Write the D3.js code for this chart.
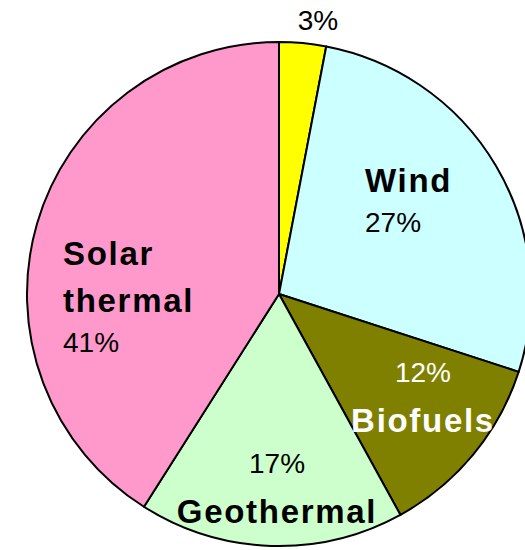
<!DOCTYPE html>
<html>
<head>
<meta charset="utf-8">
<script src="https://cdn.jsdelivr.net/npm/d3@7"></script>
<style>
  body { margin: 0; background: #fff; }
  svg { display: block; font-family: "Liberation Sans", Arial, sans-serif; }
</style>
</head>
<body>
<div id="chart"></div>
<script>
// data
var sources = ["Other", "Wind", "Biofuels", "Geothermal", "Solar thermal"];
var shares = [3, 27, 12, 17, 41];
var colours = ["#FFFF00", "#CCFFFF", "#808000", "#CCFFCC", "#FF99CC"];

var width = 525, height = 550,
    cx = 279, cy = 294, radius = 252;

var svg = d3.select("#chart").append("svg")
    .attr("width", width)
    .attr("height", height);

var g = svg.append("g")
    .attr("transform", "translate(" + cx + "," + cy + ")");

var pie = d3.pie().sort(null).value(function(d) { return d; });
var arc = d3.arc().innerRadius(0).outerRadius(radius);

var arcs = pie(shares);

g.selectAll("path.slice")
    .data(arcs)
  .enter().append("path")
    .attr("class", "slice")
    .attr("d", arc)
    .attr("fill", function(d, i) { return colours[i]; })
    .attr("stroke", "#000")
    .attr("stroke-width", 2)
    .attr("stroke-linejoin", "round");

// label layout, offsets from pie centre (name lines, then percent)
var layout = [
  {anchor: "middle", x: 39, pct: -264, name: null, white: false},
  {anchor: "start", x: 86, name: [-102], pct: -62, white: false},
  {anchor: "middle", x: 144, pct: 88, name: [138], white: true, pctFirst: true},
  {anchor: "middle", x: -2, pct: 179, name: [229], white: false, pctFirst: true},
  {anchor: "start", x: -216, name: [-29, 18], pct: 58, white: false}
];
var nameLines = [null, ["Wind"], ["Biofuels"], ["Geothermal"], ["Solar", "thermal"]];

layout.forEach(function(l, i) {
  var fill = l.white ? "#fff" : "#000";
  if (l.name) {
    l.name.forEach(function(y, k) {
      g.append("text")
        .attr("x", l.x)
        .attr("y", y)
        .attr("text-anchor", l.anchor)
        .attr("fill", fill)
        .style("font-size", "33px")
        .style("font-weight", "bold")
        .style("letter-spacing", "1.7px")
        .text(nameLines[i][k]);
    });
  }
  g.append("text")
    .attr("x", l.x)
    .attr("y", l.pct)
    .attr("text-anchor", l.anchor)
    .attr("fill", fill)
    .style("font-size", "28px")
    .text(shares[i] + "%");
});
</script>
</body>
</html>
